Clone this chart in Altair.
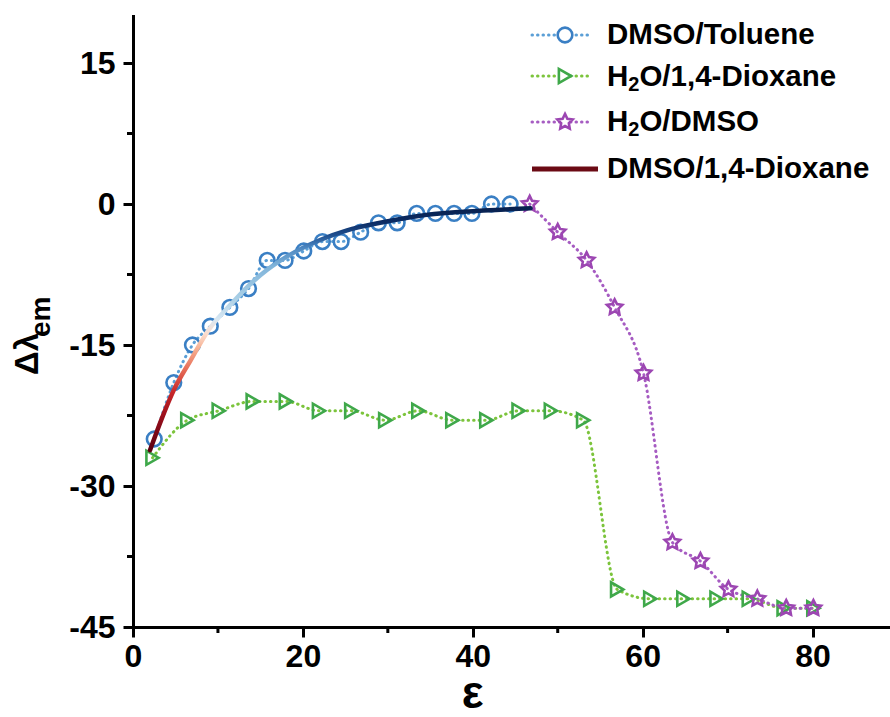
import altair as alt
import pandas as pd

# ---------------- data ----------------
tol_eps = [2.5, 4.8, 7.0, 9.1, 11.4, 13.6, 15.8, 17.9, 20.1, 22.3, 24.5, 26.8, 28.9, 31.1,
           33.4, 35.6, 37.8, 39.9, 42.2, 44.4]
tol_dl = [-25, -19, -15, -13, -11, -9, -6, -6, -5, -4, -4, -3, -2, -2, -1, -1, -1, -1, 0, 0]

dio_eps = [2.3, 6.4, 10.1, 14.1, 18.0, 21.9, 25.7, 29.7, 33.6, 37.6, 41.6, 45.4, 49.2, 53.0,
           57.0, 60.9, 64.8, 68.7, 72.5, 76.6, 80.1]
dio_dl = [-27, -23, -22, -21, -21, -22, -22, -23, -22, -23, -23, -22, -22, -23,
          -41, -42, -42, -42, -42, -43, -43]

dmso_eps = [46.7, 50.0, 53.4, 56.7, 60.1, 63.5, 66.8, 70.1, 73.5, 76.9, 80.1]
dmso_dl = [0, -3, -6, -11, -18, -36, -38, -41, -42, -43, -43]

fit_eps = [2.0, 3.4, 4.8, 6.8, 8.9, 11.5, 13.6, 15.8, 18.1, 22.1, 25.2, 29.1, 33.4, 38.9, 46.8]
fit_dl = [-26.2, -22.8, -19.8, -16.6, -13.4, -10.7, -8.7, -7.0, -5.6, -3.8, -2.8, -2.0,
          -1.3, -0.82, -0.46]

x_ticks = [0, 20, 40, 60, 80]
x_minor = [10, 30, 50, 70]
y_ticks = [-45, -30, -15, 0, 15]
y_minor = [-37.5, -22.5, -7.5, 7.5]

legend_labels = ["DMSO/Toluene", "H2O/1,4-Dioxane", "H2O/DMSO", "DMSO/1,4-Dioxane"]

grad_offsets = [0.0, 0.14, 0.24, 0.34, 0.42, 0.48, 0.54, 0.63, 0.76, 0.84, 0.89, 0.94, 1.0]
grad_colors = ["#5a0010", "#9a0f1c", "#c8272a", "#e8715a", "#f6b193", "#fcdccc", "#d9e8f3",
               "#a9cfe6", "#80b4da", "#4a85c0", "#1f4f8f", "#0c2d66", "#08214f"]

# ---------------- styling ----------------
W, H = 756, 611
FONT = "Liberation Sans"
TOL_M, TOL_L = "#3a7fc4", "#5b9fd6"
DIO_M, DIO_L = "#3fa84a", "#7cc43c"
DMSO_M, DMSO_L = "#9c46b2", "#a65cc2"
FIT_C = "#6b0a14"
STAR = ("M0,-1L0.294,-0.405L0.951,-0.309L0.476,0.155L0.588,0.809L0,0.5L-0.588,0.809"
        "L-0.476,0.155L-0.951,-0.309L-0.294,-0.405Z")
DOT = [0.5, 5]

xs = alt.Scale(domain=[0, 89], nice=False, zero=False)
ys = alt.Scale(domain=[-45, 20], nice=False, zero=False)

x_axis = alt.Axis(values=x_ticks, title=None, grid=False, domainColor="black", domainWidth=3,
                  domainCap="square", tickColor="black", tickWidth=3, tickSize=10,
                  labelFont=FONT, labelFontWeight="bold", labelFontSize=32, labelColor="black",
                  labelPadding=4, labelFlush=False, labelOverlap=False,
                  labelExpr="datum.value + ''")
y_axis = alt.Axis(values=y_ticks, title=None, grid=False, domainColor="black", domainWidth=3,
                  domainCap="square", tickColor="black", tickWidth=3, tickSize=10,
                  labelFont=FONT, labelFontWeight="bold", labelFontSize=32, labelColor="black",
                  labelPadding=8, labelFlush=False, labelOverlap=False,
                  labelExpr="datum.value + ''")


def X(f):
    return alt.X(f, type="quantitative", scale=xs, axis=x_axis)


def Y(f):
    return alt.Y(f, type="quantitative", scale=ys, axis=y_axis)


tol = pd.DataFrame({"eps": tol_eps, "dl": tol_dl})
dio = pd.DataFrame({"eps": dio_eps, "dl": dio_dl})
dmso = pd.DataFrame({"eps": dmso_eps, "dl": dmso_dl})
fit = pd.DataFrame({"eps": fit_eps, "dl": fit_dl})

layers = []
for df, col in [(tol, TOL_L), (dio, DIO_L), (dmso, DMSO_L)]:
    layers.append(alt.Chart(df).mark_line(color=col, strokeWidth=3, strokeDash=DOT,
                                          strokeCap="round", interpolate="monotone")
                  .encode(x=X("eps"), y=Y("dl")))

layers.append(alt.Chart(tol).mark_point(shape="circle", filled=False, color=TOL_M, size=215,
                                        strokeWidth=2.6, opacity=1)
              .encode(x=X("eps"), y=Y("dl")))
layers.append(alt.Chart(dio).mark_point(shape="triangle-right", filled=False, color=DIO_M,
                                        size=200, strokeWidth=2.6, opacity=1)
              .encode(x=X("eps"), y=Y("dl")))
layers.append(alt.Chart(dmso).mark_point(shape=STAR, filled=False, color=DMSO_M, size=260,
                                         strokeWidth=2.6, opacity=1)
              .encode(x=X("eps"), y=Y("dl")))

grad = alt.LinearGradient(
    gradient="linear",
    stops=[alt.GradientStop(offset=o, color=c) for o, c in zip(grad_offsets, grad_colors)],
    x1=0, x2=0, y1=1, y2=0)
layers.append(alt.Chart(fit).mark_line(stroke=grad, strokeWidth=4.5, interpolate="monotone",
                                       strokeCap="round")
              .encode(x=X("eps"), y=Y("dl")))

# minor ticks
layers.append(alt.Chart(pd.DataFrame({"v": x_minor})).mark_rule(color="black", strokeWidth=3)
              .encode(x=X("v"), y=alt.value(H), y2=alt.value(H + 6)))
layers.append(alt.Chart(pd.DataFrame({"v": y_minor})).mark_rule(color="black", strokeWidth=3)
              .encode(y=Y("v"), x=alt.value(-6), x2=alt.value(0)))

# ---------------- legend ----------------
one = pd.DataFrame({"k": [0]})
LX0, LX1, LM, LT = 399, 459, 432, 474
rows_y = [19, 60, 106, 153]
base_y = [28, 70, 115, 162]
leg_styles = [(TOL_L, TOL_M, "circle", 215), (DIO_L, DIO_M, "triangle-right", 200),
              (DMSO_L, DMSO_M, STAR, 260)]
for i, (lc, mc, shp, sz) in enumerate(leg_styles):
    layers.append(alt.Chart(one).mark_rule(color=lc, strokeWidth=3, strokeDash=DOT,
                                           strokeCap="round")
                  .encode(x=alt.value(LX0), x2=alt.value(LX1), y=alt.value(rows_y[i])))
    layers.append(alt.Chart(one).mark_point(shape=shp, filled=True, fill="white", stroke=mc,
                                            size=sz, strokeWidth=2.6, opacity=1)
                  .encode(x=alt.value(LM), y=alt.value(rows_y[i])))
layers.append(alt.Chart(one).mark_rule(color=FIT_C, strokeWidth=5)
              .encode(x=alt.value(LX0), x2=alt.value(LX1 + 6), y=alt.value(rows_y[3])))


def txt(s, x, y, size=28, angle=None, align="left", baseline="alphabetic"):
    kw = dict(text=s, font=FONT, fontWeight="bold", fontSize=size, color="black",
              align=align, baseline=baseline)
    if angle is not None:
        kw["angle"] = angle
    return alt.Chart(one).mark_text(**kw).encode(x=alt.value(x), y=alt.value(y))


LS = 29.5
SUB = 20
h_w = 0.722 * LS
s_w = 0.556 * SUB
layers.append(txt(legend_labels[0], LT, base_y[0], LS))
for i in (1, 2):
    lab = legend_labels[i]
    layers.append(txt(lab[0], LT, base_y[i], LS))
    layers.append(txt(lab[1], LT + h_w, base_y[i] + 5, SUB))
    layers.append(txt(lab[2:], LT + h_w + s_w, base_y[i], LS))
layers.append(txt(legend_labels[3], LT, base_y[3], LS))

# axis titles
layers.append(txt("Δλ", -95, 338, 33, angle=270, align="center"))
layers.append(txt("em", -83, 321, 28, angle=270, align="left"))
layers.append(alt.Chart(one).mark_text(text="ε", font=FONT, fontWeight="bold", fontSize=46,
                                       color="black", align="center", baseline="alphabetic")
              .encode(x=alt.datum(40, type="quantitative", scale=xs), y=alt.value(692)))

chart = (alt.layer(*layers)
         .properties(width=W, height=H,
                     padding={"left": 133, "top": 16, "right": 1, "bottom": 90},
                     autosize=alt.AutoSizeParams(type="none"))
         .configure_view(stroke=None))

chart.save("out.html", embed_options={"renderer": "svg", "actions": False})
